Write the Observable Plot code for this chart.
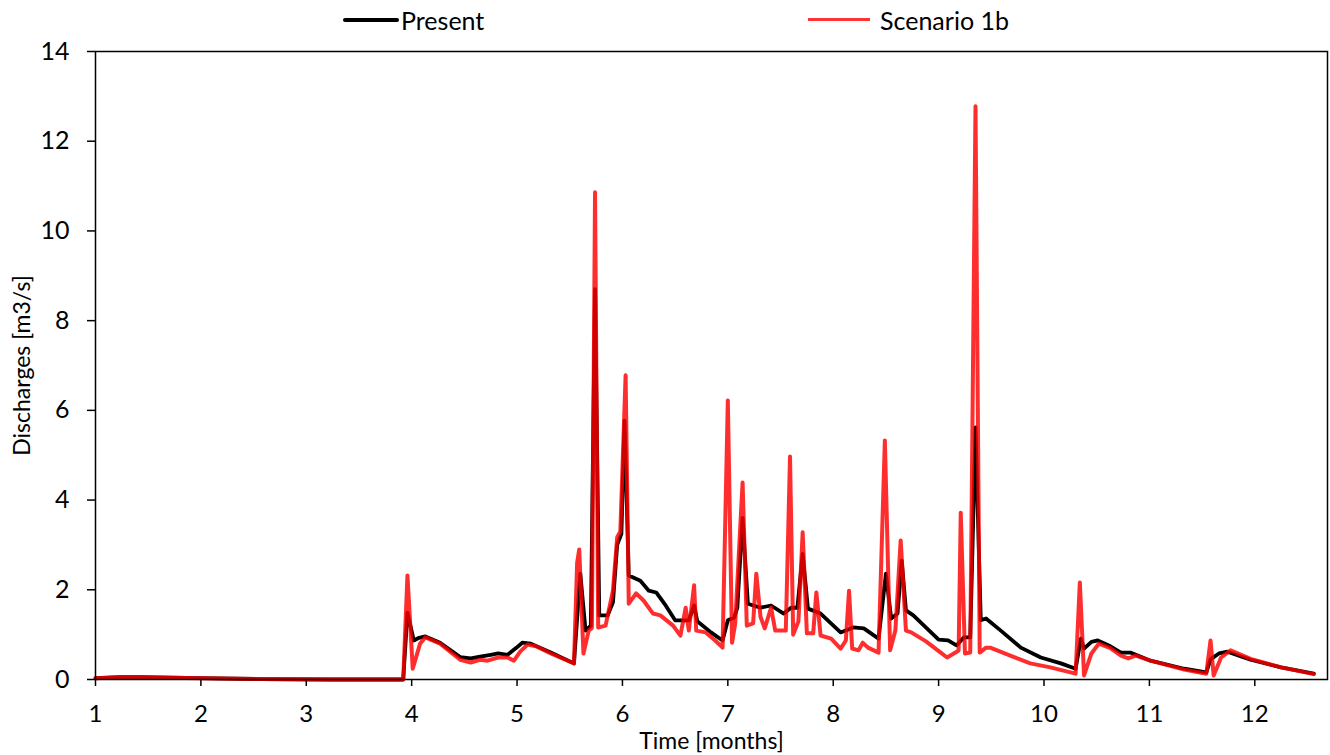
<!DOCTYPE html>
<html><head><meta charset="utf-8">
<script src="https://cdn.jsdelivr.net/npm/d3@7"></script>
<script src="https://cdn.jsdelivr.net/npm/@observablehq/plot@0.6"></script>
<style>
body{margin:0;background:#fff;font-family:Lato,"Open Sans",sans-serif;}
#wrap{position:relative;width:1330px;height:755px;}
#legend{position:relative;width:1330px;height:30px;}
.sw{position:absolute;}
.lt{position:absolute;top:4px;font-size:25px;line-height:32px;color:#000;}
</style></head>
<body>
<div id="wrap">
<div id="legend">
  <div class="sw" style="left:343px;top:18px;width:56px;height:4px;background:#000;border-radius:2px"></div>
  <div class="lt" style="left:401px">Present</div>
  <div class="sw" style="left:808px;top:18px;width:62px;height:3px;background:#ff0000;opacity:0.8"></div>
  <div class="lt" style="left:880px">Scenario 1b</div>
</div>
<div id="chart"></div>
</div>
<script>
const seriesNames = ["Present", "Scenario 1b"];
const xTicks = [1,2,3,4,5,6,7,8,9,10,11,12];
const yTicks = [0,2,4,6,8,10,12,14];

const presentT = [1.00,1.24,1.43,2.00,2.57,3.23,3.92,3.96,4.02,4.07,4.13,4.27,4.46,4.56,4.65,4.75,4.82,4.91,4.99,5.05,5.13,5.32,5.54,5.60,5.65,5.70,5.74,5.78,5.86,5.91,5.95,5.99,6.02,6.06,6.17,6.25,6.32,6.41,6.50,6.63,6.68,6.71,6.84,6.95,7.00,7.06,7.09,7.14,7.19,7.31,7.41,7.53,7.60,7.66,7.71,7.76,7.88,8.07,8.19,8.29,8.43,8.50,8.55,8.61,8.65,8.69,8.76,9.00,9.09,9.17,9.24,9.30,9.35,9.40,9.45,9.59,9.78,9.97,10.16,10.30,10.35,10.38,10.45,10.51,10.63,10.73,10.82,11.01,11.33,11.54,11.58,11.66,11.74,11.96,12.25,12.56];
const presentQ = [0.03,0.05,0.05,0.03,0.01,0.00,0.00,1.49,0.87,0.93,0.96,0.82,0.50,0.47,0.51,0.55,0.58,0.55,0.70,0.82,0.80,0.60,0.36,2.36,1.09,1.20,8.70,1.43,1.43,1.72,3.00,3.25,5.77,2.32,2.20,1.98,1.94,1.65,1.32,1.32,1.65,1.30,1.05,0.87,1.32,1.38,1.60,3.60,1.69,1.60,1.65,1.47,1.60,1.60,2.80,1.58,1.47,1.05,1.16,1.14,0.91,2.36,1.36,1.47,2.65,1.54,1.43,0.89,0.87,0.76,0.94,0.94,5.62,1.32,1.36,1.09,0.71,0.49,0.36,0.24,0.91,0.69,0.84,0.87,0.74,0.60,0.60,0.42,0.24,0.16,0.45,0.58,0.62,0.44,0.27,0.13];

const scenT = [1.00,1.24,1.43,2.00,2.57,3.23,3.92,3.96,4.01,4.08,4.13,4.27,4.46,4.56,4.65,4.72,4.82,4.91,4.97,5.03,5.10,5.18,5.32,5.54,5.57,5.59,5.63,5.68,5.71,5.74,5.77,5.84,5.91,5.95,5.98,6.03,6.06,6.13,6.20,6.29,6.36,6.48,6.55,6.60,6.63,6.68,6.70,6.79,6.88,6.95,7.00,7.04,7.07,7.14,7.18,7.24,7.27,7.31,7.35,7.41,7.45,7.55,7.59,7.62,7.67,7.71,7.75,7.81,7.84,7.88,7.98,8.07,8.12,8.15,8.18,8.24,8.28,8.33,8.43,8.49,8.54,8.59,8.64,8.69,8.74,8.88,9.02,9.08,9.16,9.19,9.21,9.25,9.30,9.35,9.39,9.45,9.49,9.68,9.87,10.06,10.30,10.34,10.38,10.45,10.52,10.63,10.73,10.80,10.87,11.01,11.33,11.54,11.58,11.61,11.68,11.77,11.96,12.25,12.56];
const scenQ = [0.03,0.05,0.05,0.03,0.01,0.00,0.00,2.32,0.24,0.80,0.94,0.80,0.44,0.38,0.44,0.42,0.49,0.49,0.42,0.62,0.78,0.74,0.58,0.36,2.60,2.90,0.58,1.09,1.15,10.86,1.16,1.20,1.98,3.17,3.30,6.78,1.69,1.92,1.76,1.47,1.43,1.20,0.98,1.60,1.09,2.10,1.09,1.05,0.87,0.71,6.22,0.82,1.25,4.39,1.20,1.25,2.36,1.40,1.14,1.60,1.09,1.09,4.97,1.00,1.30,3.28,1.03,1.03,1.94,0.98,0.91,0.69,0.87,1.98,0.69,0.65,0.82,0.71,0.60,5.33,0.65,1.10,3.10,1.09,1.05,0.85,0.60,0.49,0.60,0.65,3.72,0.58,0.60,12.78,0.60,0.71,0.71,0.53,0.36,0.27,0.13,2.16,0.09,0.58,0.80,0.70,0.53,0.47,0.53,0.42,0.22,0.13,0.87,0.09,0.49,0.65,0.46,0.27,0.12];

const presentRows = presentT.map((t,i)=>({t, q: presentQ[i], s: seriesNames[0]}));
const scenRows = scenT.map((t,i)=>({t, q: scenQ[i], s: seriesNames[1]}));

const chart = Plot.plot({
  width: 1330,
  height: 725,
  marginTop: 21,
  marginBottom: 76,
  marginLeft: 95,
  marginRight: 3,
  style: {fontSize: "25px", fontFamily: "Lato, 'Open Sans', sans-serif", background: "#fff", color: "#000", overflow: "visible"},
  x: {domain: [1, 12.69]},
  y: {domain: [0, 14]},
  marks: [
    Plot.line(presentRows, {x: "t", y: "q", stroke: "#000", strokeWidth: 3.8, strokeLinejoin: "round"}),
    Plot.line(scenRows, {x: "t", y: "q", stroke: "#ff0000", strokeWidth: 4, strokeOpacity: 0.82, strokeLinejoin: "round"}),
    Plot.frame({stroke: "#000", strokeWidth: 1.5}),
    Plot.axisX({ticks: xTicks, tickSize: 7, tickPadding: 18, tickFormat: d => String(d), label: null, strokeWidth: 1.5, fontSize: 24}),
    Plot.axisY({ticks: yTicks, tickSize: 8, tickPadding: 18, tickFormat: d => String(d), label: null, strokeWidth: 1.5, fontSize: 25}),
    Plot.text(["Time [months]"], {frameAnchor: "bottom", dy: 62, lineAnchor: "middle", textAnchor: "middle", text: d => d, fontSize: 23}),
    Plot.text(["Discharges [m3/s]"], {frameAnchor: "left", dx: -73, rotate: -90, textAnchor: "middle", lineAnchor: "middle", text: d => d, fontSize: 23})
  ]
});
document.getElementById("chart").appendChild(chart);
</script>
</body></html>
